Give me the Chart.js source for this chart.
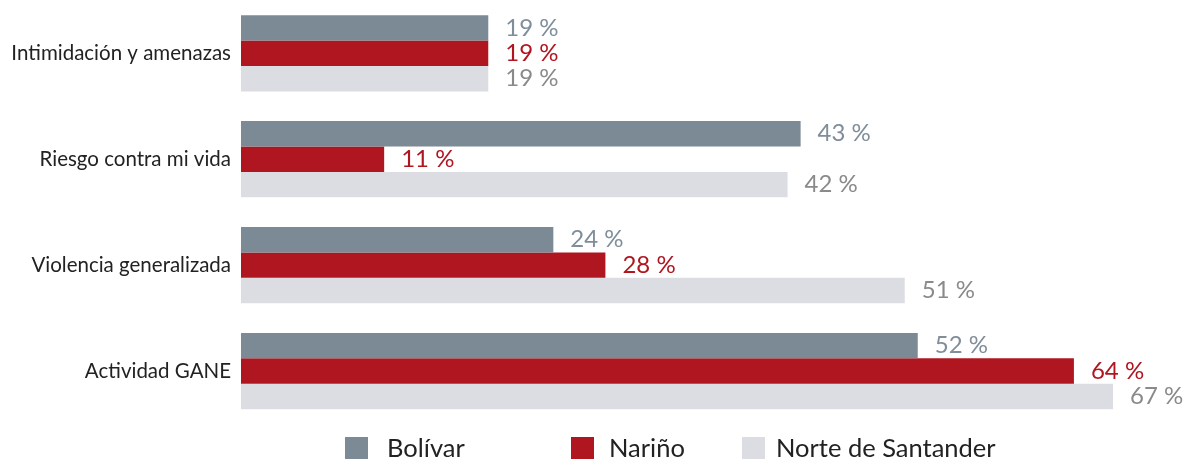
<!DOCTYPE html>
<html>
<head>
<meta charset="utf-8">
<script src="https://cdn.jsdelivr.net/npm/chart.js@4"></script>
<style>
  html, body { margin: 0; padding: 0; background: #fff; overflow: hidden; }
  #wrap { position: relative; width: 1190px; height: 461px; overflow: hidden; font-family: Lato, "Noto Sans", sans-serif; }
  #chart { position: absolute; left: 0; top: -22px; }
  .box { position: absolute; top: 437px; width: 23px; height: 22px; }
  .txt { position: absolute; top: 432px; font-size: 25.5px; line-height: 30px; color: #222; white-space: nowrap; }
</style>
</head>
<body>
<div id="wrap">
  <canvas id="chart" width="1190" height="483"></canvas>
  <div class="box" style="left:345px;background:#7b8a94"></div><div class="txt" style="left:387px">Bolívar</div>
  <div class="box" style="left:571px;background:#b01620"></div><div class="txt" style="left:609px">Nariño</div>
  <div class="box" style="left:742px;background:#dcdde2"></div><div class="txt" style="left:776px">Norte de Santander</div>
</div>
<script>
const categories = ['Intimidación y amenazas', 'Riesgo contra mi vida', 'Violencia generalizada', 'Actividad GANE'];
const seriesNames = ['Bolívar', 'Nariño', 'Norte de Santander'];
const bolivar = [19, 43, 24, 52];
const narino = [19, 11, 28, 64];
const norte = [19, 42, 51, 67];
const barColors = ['#7b8a94', '#b01620', '#dcdde2'];
const labelColors = ['#7f8e9a', '#b01620', '#8a8a8a'];

const valueLabels = {
  id: 'valueLabels',
  afterDatasetsDraw(chart) {
    const ctx = chart.ctx;
    ctx.save();
    ctx.font = '24px Lato, "Noto Sans", sans-serif';
    ctx.textAlign = 'left';
    ctx.textBaseline = 'middle';
    chart.data.datasets.forEach((ds, i) => {
      chart.getDatasetMeta(i).data.forEach((bar, j) => {
        ctx.fillStyle = labelColors[i];
        ctx.fillText(ds.data[j] + ' %', bar.x + 17, bar.y);
      });
    });
    ctx.restore();
  }
};

new Chart(document.getElementById('chart').getContext('2d'), {
  type: 'bar',
  data: {
    labels: categories,
    datasets: [
      { label: seriesNames[0], data: bolivar, backgroundColor: barColors[0] },
      { label: seriesNames[1], data: narino, backgroundColor: barColors[1] },
      { label: seriesNames[2], data: norte, backgroundColor: barColors[2] }
    ]
  },
  options: {
    indexAxis: 'y',
    responsive: false,
    animation: false,
    layout: { padding: { top: 0, right: 38, bottom: 37, left: 0 } },
    datasets: { bar: { barPercentage: 1, categoryPercentage: 0.72, borderWidth: 0 } },
    plugins: { legend: { display: false }, tooltip: { enabled: false } },
    scales: {
      x: { display: false, min: 0, max: 70 },
      y: {
        grid: { display: false, drawTicks: false },
        border: { display: false },
        ticks: { color: '#222', padding: 10, font: { family: 'Lato, "Noto Sans", sans-serif', size: 20.5 } },
        afterFit: s => { s.width = 241; }
      }
    }
  },
  plugins: [valueLabels]
});
</script>
</body>
</html>
